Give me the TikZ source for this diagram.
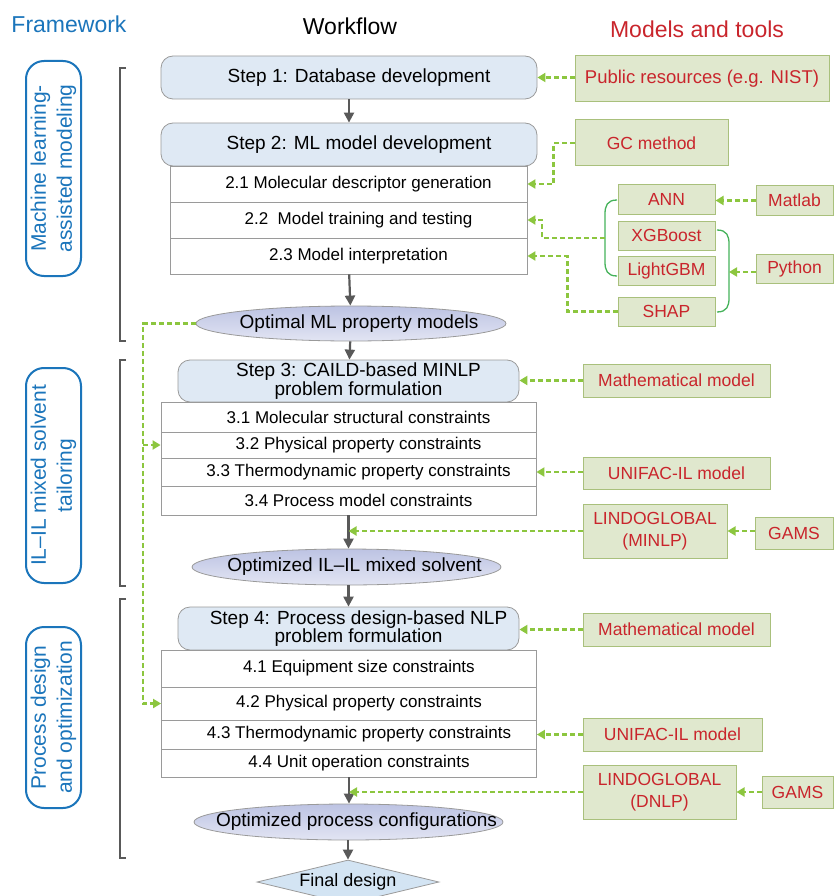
\documentclass[tikz,border=0pt]{standalone}
\usepackage{fontspec}
\setmainfont{Liberation Sans}
\usetikzlibrary{shapes.geometric,arrows.meta}

\definecolor{fwblue}{HTML}{1B75BB}
\definecolor{toolred}{HTML}{C9252C}
\definecolor{stepfill}{HTML}{DFE9F4}
\definecolor{edgegray}{HTML}{9A9A9A}
\definecolor{arrgray}{HTML}{595959}
\definecolor{toolfill}{HTML}{E0E8CE}
\definecolor{tooledge}{HTML}{A9C07C}
\definecolor{dashgreen}{HTML}{8CC63F}
\definecolor{bracegreen}{HTML}{45B25A}
\definecolor{elltop}{HTML}{BDC3E3}
\definecolor{ellbot}{HTML}{E2E5F3}
\definecolor{finalfill}{HTML}{D3E4F3}

\newcommand{\txshift}{\hspace*{20pt}}
\newcommand{\elltext}[1]{\makebox[0pt]{\hspace*{16pt}#1}}

\tikzset{
	title/.style={font=\fontsize{23}{23}\selectfont, inner sep=0pt},
	fwbox/.style={draw=fwblue, line width=2pt, rounded corners=18pt, rotate=90, text=fwblue, align=center, font=\fontsize{21}{26}\selectfont, inner sep=0pt, minimum height=55pt},
	fwbracket/.style={draw=arrgray, line width=1.4pt},
	stepbox/.style={draw=edgegray, fill=stepfill, rounded corners=12pt, align=center, font=\fontsize{19}{18.5}\selectfont, inner sep=0pt, line width=0.8pt, minimum width=341pt},
	subbox/.style={draw=edgegray, fill=white, font=\fontsize{17}{17}\selectfont, inner sep=0pt, line width=0.8pt, minimum width=375pt},
	outbox/.style={ellipse, draw=edgegray, top color=elltop, bottom color=ellbot, font=\fontsize{19}{19}\selectfont, inner sep=0pt, line width=0.8pt, minimum width=309pt, minimum height=36pt},
	finalbox/.style={diamond, aspect=4, draw=edgegray, fill=finalfill, font=\fontsize{18}{18}\selectfont, inner sep=0pt, line width=0.8pt, minimum width=182pt, minimum height=44pt},
	tool/.style={draw=tooledge, fill=toolfill, text=toolred, font=\fontsize{17.5}{22}\selectfont, align=center, inner sep=0pt, line width=1pt},
	flow/.style={draw=arrgray, line width=2.2pt, -{Triangle[length=10pt,width=10pt]}},
	feed/.style={draw=dashgreen, line width=2.3pt, dash pattern=on 5pt off 3pt, -{Triangle[length=8pt,width=9pt]}},
	gbrace/.style={draw=bracegreen, line width=1.3pt},
}

\begin{document}
\begin{tikzpicture}[x=1pt, y=-1pt]
		\useasboundingbox (0, 0) rectangle (834, 896);
		\node [title, text=fwblue] (fw) at (69, 24) {Framework};
		\node [title] (wf) at (350, 26) {Workflow};
		\node [title, text=toolred] (mt) at (697, 29) {Models and tools};

		\node [fwbox, minimum width=215pt] (fw1) at (53.5, 168.5) {Machine learning-\\assisted modeling};
		\node [fwbox, minimum width=215pt] (fw2) at (53.5, 475.5) {IL--IL mixed solvent\\tailoring};
		\node [fwbox, minimum width=181pt] (fw3) at (53.5, 717.5) {Process design\\and optimization};
		\draw [fwbracket] (126, 68) -- (120, 68) -- (120, 341) -- (126, 341);
		\draw [fwbracket] (126, 360) -- (120, 360) -- (120, 586) -- (126, 586);
		\draw [fwbracket] (126, 599) -- (120, 599) -- (120, 858) -- (126, 858);

		\node [stepbox, minimum width=376pt, minimum height=43pt] (s1) at (349, 77.5) {\txshift Step 1: Database development};
		\node [stepbox, minimum width=376pt, minimum height=43pt] (s2) at (349, 144.5) {\txshift Step 2: ML model development};
		\node [subbox, minimum width=357pt, minimum height=36pt] (r21) at (348.5, 184) {\txshift 2.1 Molecular descriptor generation};
		\node [subbox, minimum width=357pt, minimum height=36pt] (r22) at (348.5, 220) {\txshift 2.2~~Model training and testing};
		\node [subbox, minimum width=357pt, minimum height=36pt] (r23) at (348.5, 256) {\txshift 2.3 Model interpretation};
		\node [outbox, minimum width=310pt, minimum height=35pt] (e1) at (351, 323.5) {\elltext{Optimal ML property models}};

		\node [stepbox, minimum height=42pt] (s3) at (348.5, 381) {\txshift Step 3: CAILD-based MINLP\\\txshift problem formulation};
		\node [subbox, minimum height=30pt] (r31) at (348.5, 417) {\txshift 3.1 Molecular structural constraints};
		\node [subbox, minimum height=26pt] (r32) at (348.5, 445) {\txshift 3.2 Physical property constraints};
		\node [subbox, minimum height=28pt] (r33) at (348.5, 472) {\txshift 3.3 Thermodynamic property constraints};
		\node [subbox, minimum height=29pt] (r34) at (348.5, 500.5) {\txshift 3.4 Process model constraints};
		\node [outbox] (e2) at (346.5, 567) {\elltext{Optimized IL--IL mixed solvent}};

		\node [stepbox, minimum height=43pt] (s4) at (348.5, 628.5) {\txshift Step 4: Process design-based NLP\\\txshift problem formulation};
		\node [subbox, minimum height=37pt] (r41) at (349, 668.5) {\txshift 4.1 Equipment size constraints};
		\node [subbox, minimum height=33pt] (r42) at (349, 703.5) {\txshift 4.2 Physical property constraints};
		\node [subbox, minimum height=29pt] (r43) at (349, 734.5) {\txshift 4.3 Thermodynamic property constraints};
		\node [subbox, minimum height=28pt] (r44) at (349, 763) {\txshift 4.4 Unit operation constraints};
		\node [outbox] (e3) at (348.5, 822) {\elltext{Optimized process configurations}};
		\node [finalbox] (fd) at (348, 882) {Final design};

		\draw [flow] (s1) to (s2);
		\draw [flow] (r23) to (e1);
		\draw [flow] (e1) to (s3);
		\draw [flow] (r34.south) to (r34.south |- e2.north);
		\draw [flow] (e2.south -| s4) to (s4);
		\draw [flow] (r44.south) to (r44.south |- e3.north);
		\draw [flow] (e3.south -| fd) to (fd);

		\node [tool, font=\fontsize{18.5}{22}\selectfont, minimum width=254pt, minimum height=46pt] (pub) at (702, 79) {Public resources (e.g. NIST)};
		\node [tool, minimum width=153pt, minimum height=46pt] (gc) at (651.5, 143) {GC method};
		\node [tool, minimum width=97pt, minimum height=29pt] (ann) at (666.5, 199.5) {ANN};
		\node [tool, minimum width=97pt, minimum height=29pt] (xgb) at (666.5, 235.5) {XGBoost};
		\node [tool, minimum width=97pt, minimum height=29pt] (lgbm) at (666.5, 270.5) {LightGBM};
		\node [tool, minimum width=97pt, minimum height=29pt] (shap) at (666.5, 311.5) {SHAP};
		\node [tool, minimum width=77pt, minimum height=29pt] (mat) at (794.5, 200.5) {Matlab};
		\node [tool, minimum width=77pt, minimum height=29pt] (py) at (794.5, 268.5) {Python};

		\node [tool, minimum width=187pt, minimum height=33pt] (math3) at (676.5, 380.5) {Mathematical model};
		\node [tool, minimum width=187pt, minimum height=32pt] (unif3) at (676.5, 473) {UNIFAC-IL model};
		\node [tool, minimum width=144pt, minimum height=54pt] (lindo3) at (655, 531) {LINDOGLOBAL\\(MINLP)};
		\node [tool, minimum width=78pt, minimum height=32pt] (gams3) at (794, 533) {GAMS};

		\node [tool, minimum width=187pt, minimum height=33pt] (math4) at (676.5, 629.5) {Mathematical model};
		\node [tool, minimum width=179pt, minimum height=33pt] (unif4) at (672.5, 734.5) {UNIFAC-IL model};
		\node [tool, minimum width=153pt, minimum height=54pt] (lindo4) at (659.5, 792) {LINDOGLOBAL\\(DNLP)};
		\node [tool, minimum width=71pt, minimum height=32pt] (gams4) at (797.5, 792) {GAMS};

		\coordinate (lb) at (605, 238);
		\coordinate (rb) at (729, 272);
		\coordinate (lp) at (143, 323.5);
		\draw [gbrace] (617, 200) .. controls (607, 200) and (605, 206) .. (605, 214) -- (605, 262) .. controls (605, 270) and (607, 276) .. (617, 276);
		\draw [gbrace] (717, 230) .. controls (727, 230) and (729, 236) .. (729, 244) -- (729, 298) .. controls (729, 306) and (727, 312) .. (717, 312);

		\draw [feed] (pub.west |- s1) to (s1.east);
		\draw [feed] (gc.west) -- ++(-21, 0) |- (r21.east);
		\draw [feed] (lb) -- ++(-63, 0) |- (r22.east);
		\draw [feed] (shap.west) -- ++(-50, 0) |- (r23.east);
		\draw [feed] (mat.west) to (ann.east |- mat.west);
		\draw [feed] (py.west |- rb) to (rb);
		\draw [feed] (e1.west) -- (lp) |- (r42.west);
		\draw [feed] (lp |- r32.west) to (r32.west);

		\draw [feed] (math3.west) to (s3.east |- math3.west);
		\draw [feed] (unif3.west |- r33) to (r33.east);
		\draw [feed] (lindo3.west) to (r34.south |- lindo3.west);
		\draw [feed] (gams3.west |- lindo3) to (lindo3.east);

		\draw [feed] (math4.west) to (s4.east |- math4.west);
		\draw [feed] (unif4.west) to (r43.east |- unif4.west);
		\draw [feed] (lindo4.west) to (r44.south |- lindo4.west);
		\draw [feed] (gams4.west) to (lindo4.east |- gams4.west);
\end{tikzpicture}
\end{document}
